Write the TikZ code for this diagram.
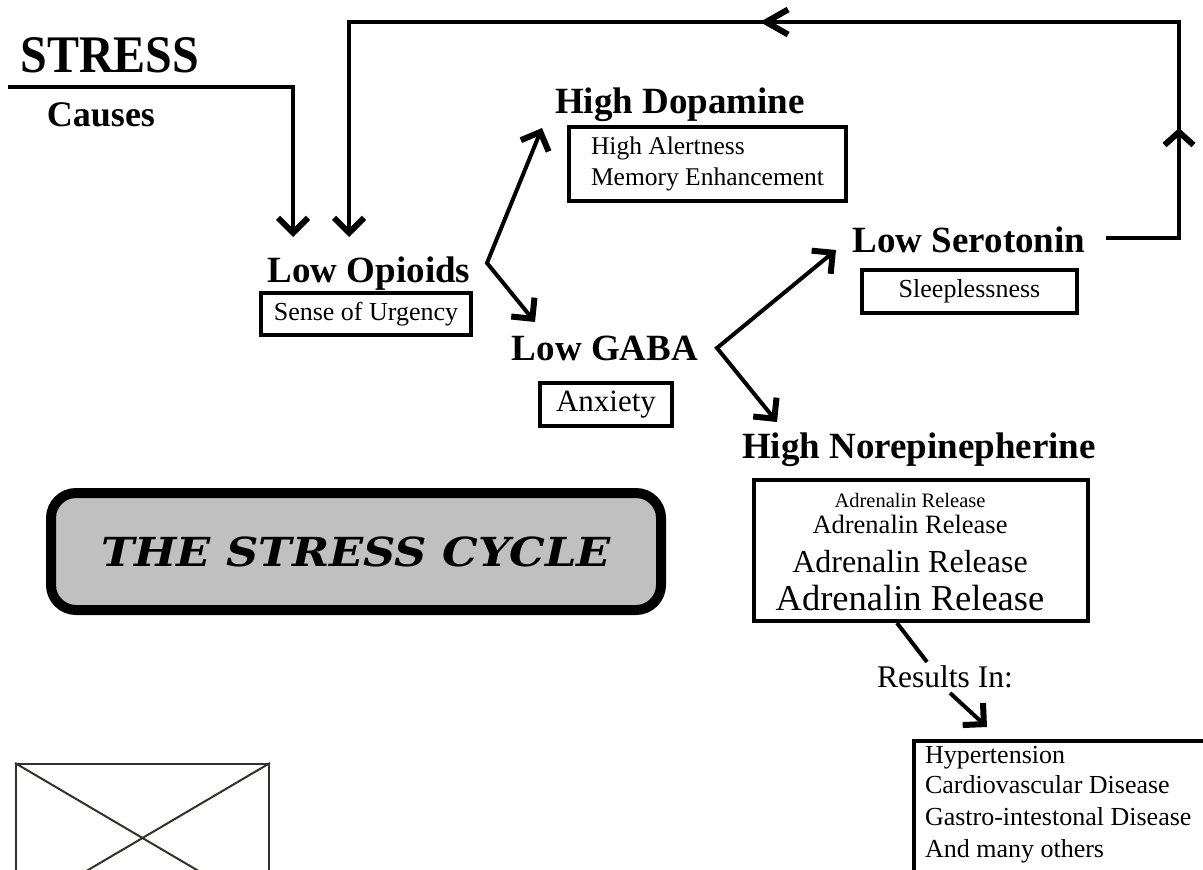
\documentclass[tikz,border=0pt]{standalone}
\usepackage{fontspec}
\setmainfont{Liberation Serif}
\newfontfamily\titlefont{DejaVu Serif}
\usetikzlibrary{arrows.meta}
\usetikzlibrary{decorations.markings}
\definecolor{panelgray}{HTML}{C0C0C0}
\definecolor{framegray}{HTML}{34302D}
\tikzset{head/.style={anchor=base, inner sep=0pt, font=\fontsize{37}{40}\selectfont\bfseries},
  box/.style={draw, line width=4pt, inner sep=0pt, font=\fontsize{26}{31}\selectfont}
}

\begin{document}
\begin{tikzpicture}[x=1pt,y=-1pt,line width=4pt,>={Straight Barb[length=15pt,width=30pt,line width=6pt]}]
                \useasboundingbox (0,0) rectangle (1203,870);
                \clip (0,0) rectangle (1203,870);

                % Headings
                \node[head, font=\fontsize{48}{52}\selectfont\bfseries] (stress) at (110,72) {\scalebox{1}[1.1]{STRESS}};
                \node[head, font=\fontsize{36}{40}\selectfont\bfseries] (causes) at (101,126) {Causes};
                \node[head] (opioids) at (369,282) {Low Opioids};
                \node[head] (dopamine) at (680,113) {High Dopamine};
                \node[head] (serotonin) at (969,252) {Low Serotonin};
                \node[head] (gaba) at (605,360) {Low GABA};
                \node[head] (norep) at (919,458) {High Norepinepherine};

                % Boxes
                \node[box, minimum width=210, minimum height=42] (urgency) at (366,314) {Sense of Urgency};
                \node[box, minimum width=277, minimum height=74, align=left, font=\fontsize{25.5}{31}\selectfont] (alert) at (707.5,164) {High Alertness\\Memory Enhancement};
                \node[box, minimum width=215, minimum height=43] (sleep) at (969.5,291.5) {Sleeplessness};
                \node[box, minimum width=132, minimum height=43, font=\fontsize{31}{34}\selectfont] (anxiety) at (606,404.5) {Anxiety};
                \node[box, minimum width=334, minimum height=141] (adrbox) at (921,550.5) {};
                \foreach \s/\y [count=\i] in {20.5/507, 26.5/533, 32/572, 36.5/610}
                    \node[anchor=base, inner sep=0pt, font=\fontsize{\s}{\s}\selectfont] (adr\i) at (910,\y) {Adrenalin Release};
                \node[anchor=base, inner sep=0pt, font=\fontsize{31.5}{34}\selectfont] (results) at (945,687) {Results In:};
                \node[box, anchor=north west, minimum width=360, minimum height=200] (illbox) at (912,739) {};
                \foreach \t/\y [count=\i] in {Hypertension/763, Cardiovascular Disease/793, Gastro-intestonal Disease/825, And many others/857}
                    \node[anchor=base west, inner sep=0pt, font=\fontsize{26}{31}\selectfont] (ill\i) at (923,\y) {\t};

                % Title panel
                \node[draw, line width=10pt, rounded corners=25pt, fill=panelgray, minimum width=610, minimum height=117, inner sep=0pt,
                      font=\titlefont\fontsize{40}{44}\selectfont\bfseries\itshape] (title) at (356,551.5) {\scalebox{1.12}[1.0]{THE STRESS CYCLE}};

                % Missing picture frame
                \node[draw=framegray, line width=2pt, minimum width=253, minimum height=148, inner sep=0pt] (frame) at (142.5,838) {};
                \draw[framegray, line width=2pt] (frame.north west) -- (frame.south east);
                \draw[framegray, line width=2pt] (frame.north east) -- (frame.south west);

                % Stress in
                \coordinate (stressL) at (8,87);
                \coordinate (stressR) at (293,87);
                \coordinate (stressTip) at (293,237);
                \draw[->] (stressL) -- (stressR) -- (stressTip);

                % Cycle back
                \coordinate (cycA) at (1106,238);
                \coordinate (cycB) at (1179,238);
                \coordinate (cycC) at (1179,22);
                \coordinate (cycD) at (349,22);
                \coordinate (cycTip) at (349,237);
                \draw[->, decoration={markings,
                    mark=at position 183pt with {\arrow{Straight Barb[length=13pt,width=29pt,line width=6pt]}},
                    mark=at position 708pt with {\arrow{Straight Barb[length=22pt,width=25pt,line width=6pt]}}},
                    postaction={decorate}] (cycA) -- (cycB) -- (cycC) -- (cycD) -- (cycTip);

                % Forks
                \coordinate (forkO) at (487,263);
                \coordinate (dopTip) at (542,128);
                \coordinate (gabaTip) at (535,322);
                \draw[<->] (dopTip) -- (forkO) -- (gabaTip);
                \coordinate (forkG) at (717,348);
                \coordinate (seroTip) at (836,250);
                \coordinate (norTip) at (777,422);
                \draw[<->] (seroTip) -- (forkG) -- (norTip);

                % Results
                \coordinate (resA) at (897,623);
                \coordinate (resB) at (927,662);
                \draw (resA) -- (resB);
                \coordinate (resC) at (950,693);
                \coordinate (resTip) at (987,727);
                \draw[->] (resC) -- (resTip);
            \end{tikzpicture}
\end{document}
